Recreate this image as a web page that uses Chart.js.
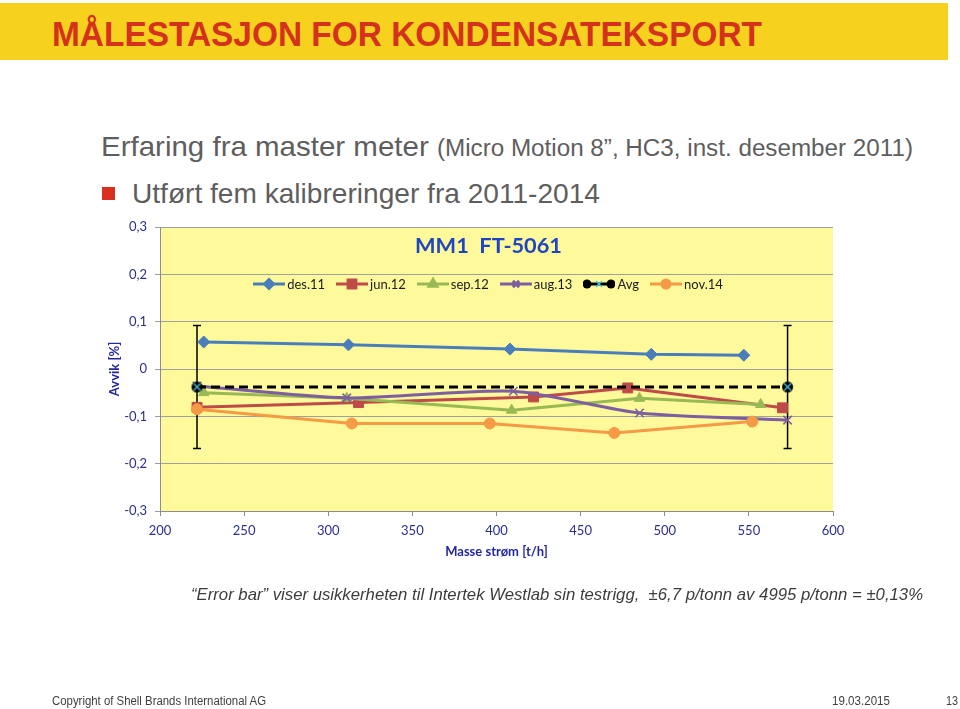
<!DOCTYPE html>
<html><head><meta charset="utf-8">
<script src="https://cdn.jsdelivr.net/npm/chart.js@4.4.1/dist/chart.umd.min.js"></script>
<style>
html,body{margin:0;padding:0;background:#fff;width:960px;height:709px;overflow:hidden;position:relative;font-family:"Liberation Sans",Arial,sans-serif;}
#c{position:absolute;left:0;top:0;}
.t{position:absolute;white-space:nowrap;line-height:1;transform-origin:0 0;display:inline-block;}
#banner{position:absolute;left:0;top:3px;width:948px;height:57px;background:#F6D11E;}
#h1{left:52px;top:16px;font-weight:bold;font-size:35px;color:#D4321C;}
#sub1{left:101px;top:133px;font-size:28px;color:#5E5E5E;}
#sub1 span{font-size:23px;}
#bsq{position:absolute;left:102px;top:187px;width:13px;height:13px;background:#D7301F;}
#sub2{left:132px;top:180px;font-size:28px;color:#5E5E5E;}
#ctitle{left:415px;top:235px;font-family:Lato,sans-serif;font-weight:bold;font-size:20px;color:#1F45C4;}
#legend{position:absolute;left:0;width:976px;top:277px;height:14px;display:flex;justify-content:center;align-items:center;font-family:Lato,sans-serif;font-size:13px;color:#1a1a1a;}
#legend .it{display:flex;align-items:center;margin:0 5.5px;}
#legend canvas{margin-right:2px;}
#cap{left:191px;top:586px;font-size:17px;font-style:italic;color:#3C3C3C;}
.ft{top:695px;font-size:12.5px;color:#404040;}
</style></head>
<body>
<div id="banner"></div>
<div class="t" id="h1" data-w="710">MÅLESTASJON FOR KONDENSATEKSPORT</div>
<div class="t" id="sub1" data-w="812">Erfaring fra master meter <span>(Micro Motion 8”, HC3, inst. desember 2011)</span></div>
<div id="bsq"></div>
<div class="t" id="sub2" data-w="468">Utført fem kalibreringer fra 2011-2014</div>
<canvas id="c" width="960" height="709"></canvas>
<div class="t" id="ctitle" data-w="147">MM1&nbsp;&nbsp;FT-5061</div>
<div id="legend"></div>
<div class="t" id="cap" data-w="732">“Error bar” viser usikkerheten til Intertek Westlab sin testrigg, &nbsp;±6,7 p/tonn av 4995 p/tonn = ±0,13%</div>
<div class="t ft" style="left:52px" data-w="214">Copyright of Shell Brands International AG</div>
<div class="t ft" style="left:832px" data-w="58">19.03.2015</div>
<div class="t ft" style="left:946px" data-w="12">13</div>
<script>
// ---- data ----
const seriesNames = ['des.11', 'jun.12', 'sep.12', 'aug.13', 'Avg', 'nov.14'];
const des11X = [226, 312, 408, 492, 547];
const des11Y = [0.057, 0.051, 0.042, 0.031, 0.029];
const jun12X = [222, 318, 422, 478, 570];
const jun12Y = [-0.081, -0.071, -0.059, -0.040, -0.082];
const sep12X = [226, 311, 409, 485, 557];
const sep12Y = [-0.050, -0.062, -0.087, -0.062, -0.075];
const aug13X = [222, 311, 410, 485, 573];
const aug13Y = [-0.036, -0.061, -0.047, -0.093, -0.108];
const avgX = [222, 573];
const avgY = [-0.038, -0.038];
const avgErr = [0.13, 0.13];
const nov14X = [222, 314, 396, 470, 552];
const nov14Y = [-0.085, -0.115, -0.115, -0.135, -0.111];
const xTickMin = 200, xTickMax = 600, xTickStep = 50;
const yTickMin = -0.3, yTickMax = 0.3, yTickStep = 0.1;

const pts = (xs, ys) => xs.map((x, i) => ({x: x, y: ys[i]}));
const colors = ['#4A7EBB', '#BE4B48', '#98B954', '#7D5FA0', '#000000', '#F59A45'];

// Avg marker image: black circle with cyan x
function avgMarker() {
  const cv = document.createElement('canvas'); cv.width = 13; cv.height = 13;
  const g = cv.getContext('2d');
  g.fillStyle = '#000'; g.beginPath(); g.arc(6.5, 6.5, 5.5, 0, Math.PI * 2); g.fill();
  g.strokeStyle = '#3FC6E8'; g.lineWidth = 1.3;
  g.beginPath(); g.moveTo(3, 3); g.lineTo(10, 10); g.moveTo(10, 3); g.lineTo(3, 10); g.stroke();
  return cv;
}
const avgImg = avgMarker();

const markers = [
  {style: 'rectRot', r: 6, bw: 1},
  {style: 'rect', r: 7, bw: 1},
  {style: 'triangle', r: 6, bw: 1},
  {style: 'crossRot', r: 6, bw: 1.5},
  {style: avgImg, r: 6, bw: 1},
  {style: 'circle', r: 5.5, bw: 1}
];
const xs = [des11X, jun12X, sep12X, aug13X, avgX, nov14X];
const ys = [des11Y, jun12Y, sep12Y, aug13Y, avgY, nov14Y];
const orders = [5, 4, 3, 2, 1, 0];

const datasets = seriesNames.map((n, i) => ({
  label: n,
  data: pts(xs[i], ys[i]),
  borderColor: colors[i],
  backgroundColor: colors[i],
  borderWidth: 3,
  borderDash: n === 'Avg' ? [9, 5] : [],
  tension: n === 'aug.13' ? 0.25 : 0,
  pointStyle: markers[i].style,
  pointRadius: markers[i].r,
  pointBorderWidth: markers[i].bw,
  pointBackgroundColor: colors[i],
  pointBorderColor: colors[i],
  order: orders[i]
}));

const bgPlugin = {
  id: 'bg',
  beforeDraw(chart) {
    const a = chart.chartArea, g = chart.ctx;
    g.save(); g.fillStyle = '#FEFA9C'; g.fillRect(a.left, a.top, a.right - a.left, a.bottom - a.top); g.restore();
  }
};
const errPlugin = {
  id: 'err',
  beforeDatasetsDraw(chart) {
    const g = chart.ctx, xS = chart.scales.x, yS = chart.scales.y;
    g.save(); g.strokeStyle = '#000'; g.lineWidth = 1.5;
    avgX.forEach((x, i) => {
      const px = xS.getPixelForValue(x);
      const t = yS.getPixelForValue(avgY[i] + avgErr[i]);
      const b = yS.getPixelForValue(avgY[i] - avgErr[i]);
      g.beginPath();
      g.moveTo(px, t); g.lineTo(px, b);
      g.moveTo(px - 4, t); g.lineTo(px + 4, t);
      g.moveTo(px - 4, b); g.lineTo(px + 4, b);
      g.stroke();
    });
    g.restore();
  }
};

const tickColor = '#2A2E92';
Chart.defaults.font.family = 'Lato, sans-serif';
const chart = new Chart(document.getElementById('c'), {
  type: 'line',
  data: {datasets: datasets},
  options: {
    responsive: false,
    animation: false,
    layout: {padding: {left: 100, top: 227, right: 127, bottom: 138}},
    plugins: {legend: {display: false}, tooltip: {enabled: false}},
    scales: {
      x: {
        type: 'linear', min: xTickMin, max: xTickMax,
        ticks: {stepSize: xTickStep, color: tickColor, font: {size: 13}, padding: 7},
        grid: {drawOnChartArea: false, tickLength: 5, color: '#8C8C8C'},
        border: {color: '#8C8C8C'},
        title: {display: true, text: 'Masse strøm [t/h]', color: '#24289E', font: {size: 13, weight: 'bold'}, padding: {top: 0, bottom: 11}},
        afterFit(s) { s.height = 60; }
      },
      y: {
        type: 'linear', min: yTickMin, max: yTickMax,
        ticks: {stepSize: yTickStep, color: tickColor, font: {size: 13}, padding: 8,
          callback: v => { const r = Math.round(v * 10) / 10; return r === 0 ? '0' : r.toFixed(1).replace('.', ','); }},
        grid: {color: '#A0A0A0', tickLength: 5},
        border: {color: '#8C8C8C'},
        title: {display: true, text: 'Avvik [%]', color: '#24289E', font: {size: 13, weight: 'bold'}, padding: {top: 7, bottom: 0}},
        afterFit(s) { s.width = 60; }
      }
    }
  },
  plugins: [bgPlugin, errPlugin]
});

// ---- HTML legend built from the datasets ----
const leg = document.getElementById('legend');
chart.data.datasets.forEach((ds, i) => {
  const it = document.createElement('div'); it.className = 'it';
  const cv = document.createElement('canvas'); cv.width = 32; cv.height = 14;
  const g = cv.getContext('2d');
  g.strokeStyle = ds.borderColor; g.lineWidth = 3;
  g.beginPath(); g.moveTo(0, 7); g.lineTo(32, 7); g.stroke();
  if (ds.label === 'Avg') {
    g.fillStyle = '#000';
    [4, 28].forEach(cx => { g.beginPath(); g.arc(cx, 7, 4.5, 0, Math.PI * 2); g.fill(); });
    g.strokeStyle = '#3FC6E8'; g.lineWidth = 1.3;
    g.beginPath(); g.moveTo(13, 4); g.lineTo(19, 10); g.moveTo(19, 4); g.lineTo(13, 10); g.stroke();
  } else {
    g.fillStyle = ds.pointBackgroundColor; g.strokeStyle = ds.pointBorderColor;
    Chart.helpers.drawPoint(g, {pointStyle: ds.pointStyle, radius: ds.pointRadius - 1.5, rotation: 0, borderWidth: ds.pointBorderWidth}, 16, 7);
  }
  const sp = document.createElement('span'); sp.textContent = ds.label;
  it.appendChild(cv); it.appendChild(sp); leg.appendChild(it);
});

// ---- fit slide texts to their widths ----
document.querySelectorAll('[data-w]').forEach(el => {
  const w = el.getBoundingClientRect().width;
  el.style.transform = 'scaleX(' + (parseFloat(el.dataset.w) / w) + ')';
});
</script>
</body></html>
